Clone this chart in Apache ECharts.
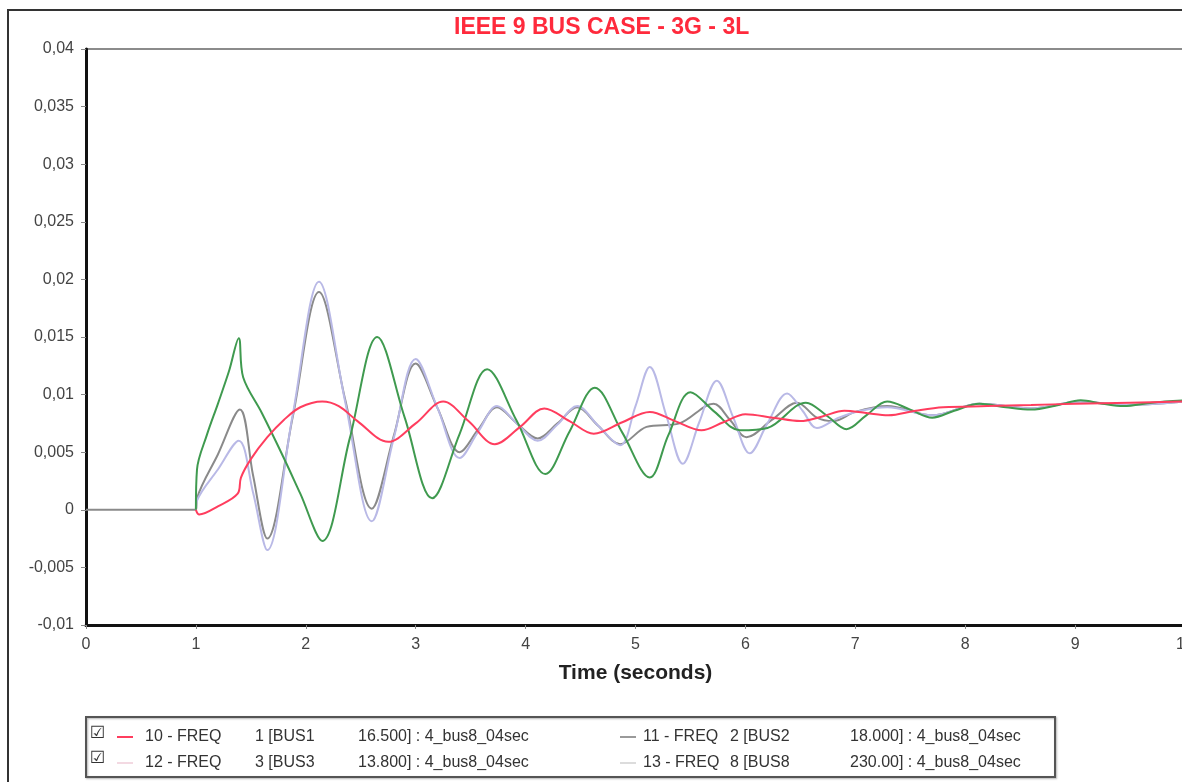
<!DOCTYPE html>
<html>
<head>
<meta charset="utf-8">
<script src="https://cdn.jsdelivr.net/npm/echarts@6/dist/echarts.min.js"></script>
<style>
	html, body { margin: 0; padding: 0; background: #fff; }
	#chart { width: 1182px; height: 782px; }
</style>
</head>
<body>
<div id="chart"></div>
<script>
"use strict";

// values, time in seconds
const tBus1 = [1.0, 1.03, 1.2, 1.38, 1.41, 1.5, 1.65, 1.8, 1.95, 2.15, 2.3, 2.47, 2.75, 3.0, 3.25, 3.48, 3.72, 3.95, 4.17, 4.4, 4.62, 4.88, 5.13, 5.36, 5.6, 5.8, 6.0, 6.25, 6.5, 6.7, 6.9, 7.1, 7.3, 7.55, 7.8, 8.2, 8.6, 9.0, 9.5, 10];
const vBus1 = [0, -0.0004, 0.0003, 0.0014, 0.0028, 0.0044, 0.0063, 0.0078, 0.0089, 0.0094, 0.009, 0.0077, 0.0059, 0.0075, 0.0094, 0.0077, 0.0057, 0.0072, 0.0088, 0.0077, 0.0066, 0.0076, 0.0085, 0.0077, 0.0069, 0.0076, 0.0083, 0.008, 0.0077, 0.0081, 0.0086, 0.0084, 0.0082, 0.0086, 0.0089, 0.009, 0.0091, 0.0092, 0.0093, 0.0094];

const tBus2 = [0, 1.0, 1.01, 1.2, 1.4, 1.52, 1.65, 1.88, 2.12, 2.36, 2.6, 2.8, 3.0, 3.2, 3.4, 3.57, 3.74, 3.92, 4.11, 4.29, 4.47, 4.66, 4.86, 5.1, 5.4, 5.71, 5.86, 6.01, 6.24, 6.47, 6.65, 6.8, 7.0, 7.29, 7.7, 8.13, 8.6, 9.05, 9.44, 10];
const vBus2 = [0, 0, 0.001, 0.0048, 0.0087, 0.003, -0.0025, 0.008, 0.0189, 0.0095, 0.0001, 0.0064, 0.0127, 0.0088, 0.005, 0.007, 0.0089, 0.0075, 0.0062, 0.0075, 0.0089, 0.0073, 0.0057, 0.0072, 0.0075, 0.0092, 0.0078, 0.0063, 0.0078, 0.0093, 0.008, 0.0077, 0.0085, 0.009, 0.0082, 0.0092, 0.0088, 0.0094, 0.0091, 0.0094];

const tBus3 = [1.0, 1.01, 1.1, 1.2, 1.3, 1.39, 1.43, 1.6, 1.8, 1.95, 2.15, 2.4, 2.65, 2.9, 3.15, 3.4, 3.65, 3.92, 4.18, 4.4, 4.63, 4.88, 5.13, 5.3, 5.5, 5.72, 5.95, 6.2, 6.55, 6.75, 6.92, 7.1, 7.29, 7.5, 7.7, 7.9, 8.13, 8.37, 8.6, 8.85, 9.05, 9.25, 9.44, 9.7, 10];
const vBus3 = [0, 0.0035, 0.0065, 0.0092, 0.012, 0.0149, 0.0115, 0.0084, 0.0045, 0.0014, -0.0027, 0.0062, 0.015, 0.008, 0.001, 0.0066, 0.0122, 0.0077, 0.0031, 0.0068, 0.0106, 0.0067, 0.0028, 0.0065, 0.0102, 0.0085, 0.0069, 0.0071, 0.0093, 0.0081, 0.007, 0.0082, 0.0094, 0.0087, 0.008, 0.0086, 0.0092, 0.0089, 0.0087, 0.0091, 0.0095, 0.0092, 0.009, 0.0093, 0.0095];

const tBus8 = [1.0, 1.01, 1.2, 1.39, 1.52, 1.65, 1.88, 2.12, 2.36, 2.6, 2.8, 3.0, 3.2, 3.4, 3.57, 3.74, 3.92, 4.11, 4.29, 4.47, 4.66, 4.86, 5.0, 5.13, 5.28, 5.43, 5.58, 5.74, 5.89, 6.04, 6.2, 6.38, 6.52, 6.65, 6.85, 7.05, 7.29, 7.7, 8.13, 8.6, 9.05, 9.44, 10];
const vBus8 = [0, 0.0008, 0.0035, 0.006, 0.0015, -0.0035, 0.0082, 0.0198, 0.0093, -0.001, 0.0062, 0.0131, 0.0088, 0.0045, 0.0068, 0.009, 0.0075, 0.006, 0.0074, 0.009, 0.0073, 0.0056, 0.009, 0.0124, 0.0082, 0.004, 0.0076, 0.0112, 0.008, 0.0049, 0.0075, 0.0101, 0.0086, 0.0071, 0.008, 0.0086, 0.0089, 0.0082, 0.0092, 0.0088, 0.0094, 0.0091, 0.0094];

// legend columns
const names = ["10 - FREQ", "11 - FREQ", "12 - FREQ", "13 - FREQ"];
const buses = ["1 [BUS1", "2 [BUS2", "3 [BUS3", "8 [BUS8"];
const cases = ["16.500] : 4_bus8_04sec", "18.000] : 4_bus8_04sec", "13.800] : 4_bus8_04sec", "230.00] : 4_bus8_04sec"];
const lineColors = ["#ff3d5e", "#8a8a8a", "#3f9a4f", "#b9b9e6"];
const iconColors = ["#ff3d5e", "#9a9a9a", "#f3d9e2", "#dcdcdc"];

const pairs = (t, v) => t.map((x, i) => [x, v[i]]);
const series = [
	{ name: names[1], data: pairs(tBus2, vBus2), color: lineColors[1] },
	{ name: names[3], data: pairs(tBus8, vBus8), color: lineColors[3] },
	{ name: names[2], data: pairs(tBus3, vBus3), color: lineColors[2] },
	{ name: names[0], data: pairs(tBus1, vBus1), color: lineColors[0] }
].map((s) => ({
	type: "line",
	name: s.name,
	data: s.data,
	smooth: 0.35,
	showSymbol: false,
	lineStyle: { width: 2, color: s.color },
	itemStyle: { color: s.color }
}));

const font = "'Liberation Sans', Arial, sans-serif";
const txt = { fontSize: 16, fontFamily: font, color: "#333" };
const chart = echarts.init(document.getElementById("chart"));

chart.setOption({
	animation: false,
	backgroundColor: "#fff",
	title: {
		text: "IEEE 9 BUS CASE - 3G - 3L",
		left: 449,
		top: 11,
		textStyle: { color: "#ff2a3c", fontWeight: "bold", fontSize: 23, fontFamily: font }
	},
	grid: {
		left: 86,
		top: 49,
		right: -3,
		bottom: 157,
		show: true,
		borderColor: "#666",
		borderWidth: 1.5,
		outerBoundsMode: "none"
	},
	xAxis: {
		type: "value",
		min: 0,
		max: 10,
		interval: 1,
		name: "Time (seconds)",
		nameLocation: "middle",
		nameGap: 38,
		nameTextStyle: { fontWeight: "bold", fontSize: 21, color: "#222", fontFamily: font },
		splitLine: { show: false },
		axisLine: { onZero: false, lineStyle: { color: "#111", width: 3 } },
		axisTick: { length: 4, lineStyle: { color: "#888" } },
		axisLabel: { fontSize: 16, color: "#444", margin: 12, fontFamily: font }
	},
	yAxis: {
		type: "value",
		min: -0.01,
		max: 0.04,
		interval: 0.005,
		splitLine: { show: false },
		axisLine: { show: true, onZero: false, lineStyle: { color: "#111", width: 3 } },
		axisTick: { show: true, length: 5, lineStyle: { color: "#888" } },
		axisLabel: {
			fontSize: 16,
			color: "#444",
			margin: 12,
			fontFamily: font,
			formatter: (v) => String(+v.toFixed(3)).replace(".", ",")
		}
	},
	legend: {
		left: 112,
		top: 724,
		width: 1020,
		itemWidth: 16,
		itemHeight: 2,
		itemGap: 10,
		icon: "rect",
		selectedMode: false,
		data: names.map((n, i) => ({ name: n, itemStyle: { color: iconColors[i] } })),
		textStyle: {
			fontFamily: font,
			fontSize: 16,
			color: "#333",
			lineHeight: 15,
			rich: {
				a: Object.assign({ width: 110, padding: [0, 0, 0, 7] }, txt),
				b: Object.assign({ width: 103 }, txt),
				c: Object.assign({ width: 252 }, txt),
				a2: Object.assign({ width: 87, padding: [0, 0, 0, 2] }, txt),
				b2: Object.assign({ width: 120 }, txt),
				c2: Object.assign({ width: 190 }, txt)
			}
		},
		formatter: (name) => {
			const i = names.indexOf(name);
			const k = i % 2 === 1 ? "2" : "";
			return "{a" + k + "|" + name + "}{b" + k + "|" + buses[i] + "}{c" + k + "|" + cases[i] + "}";
		}
	},
	graphic: [
		// outer frame
		{ type: "rect", shape: { x: 8, y: 10, width: 1200, height: 800 }, style: { fill: null, stroke: "#333", lineWidth: 2 }, silent: true },
		// legend box
		{ type: "rect", shape: { x: 86, y: 717, width: 969, height: 60 }, style: { fill: null, stroke: "#555", lineWidth: 2, shadowColor: "rgba(0,0,0,0.3)", shadowBlur: 2, shadowOffsetX: 1, shadowOffsetY: 1 }, silent: true },
		{ type: "text", left: 90, top: 725, style: { text: "\u2611", font: "17px 'DejaVu Sans'", fill: "#333" }, silent: true },
		{ type: "text", left: 90, top: 750, style: { text: "\u2611", font: "17px 'DejaVu Sans'", fill: "#333" }, silent: true }
	],
	series: series
});
</script>
</body>
</html>
